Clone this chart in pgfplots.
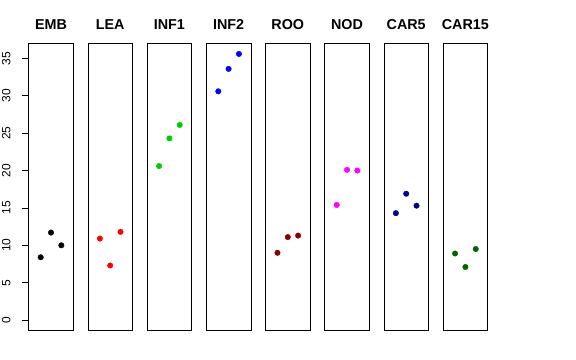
\documentclass[border=0pt]{standalone}
\usepackage{pgfplots}
\pgfplotsset{compat=1.18}
\usepackage{fontspec}
\setmainfont{Liberation Sans}
\definecolor{cEMB}{RGB}{0,0,0}
\definecolor{cLEA}{RGB}{255,0,0}
\definecolor{cINF1}{RGB}{0,205,0}
\definecolor{cINF2}{RGB}{0,0,255}
\definecolor{cROO}{RGB}{139,0,0}
\definecolor{cNOD}{RGB}{255,0,255}
\definecolor{cCAR5}{RGB}{0,0,139}
\definecolor{cCARf}{RGB}{0,100,0}
\pgfplotsset{
  panel/.style={
    scale only axis, width=44.6bp, height=287.4bp,
    anchor=south west,
    xmin=-0.16, xmax=4.16, ymin=-1.424, ymax=37.024,
    xtick=\empty, ytick=\empty,
    axis line style={line width=0.8bp, black},
    title style={at={(0.5,1)}, anchor=base, yshift=8.3bp, inner sep=0pt,
      font=\bfseries\fontsize{14.4}{14.4}\selectfont},
    clip=false,
  },
  pts/.style={only marks, mark=*, mark size=2.75bp, mark options={draw=#1, fill=#1}, color=#1},
}
\begin{document}
\begin{tikzpicture}
\path[use as bounding box] (0,0) rectangle (576bp,360bp);
\begin{axis}[panel, at={(28.7bp,29.3bp)}, title={EMB},
  ytick={0,5,10,15,20,25,30,35},
  tick align=outside, ytick pos=left, major tick length=7bp,
  tick style={line width=0.8bp, black},
  /pgf/number format/assume math mode=true,
  yticklabel style={rotate=90, anchor=south, inner sep=0pt, yshift=11bp, font=\fontsize{12}{12}\selectfont}]
\addplot[pts=cEMB] coordinates {(1,8.4) (2,11.7) (3,10.0)};
\end{axis}
\begin{axis}[panel, at={(87.9bp,29.3bp)}, title={LEA}]
\addplot[pts=cLEA] coordinates {(1,10.9) (2,7.3) (3,11.8)};
\end{axis}
\begin{axis}[panel, at={(147.1bp,29.3bp)}, title={INF1}]
\addplot[pts=cINF1] coordinates {(1,20.6) (2,24.3) (3,26.1)};
\end{axis}
\begin{axis}[panel, at={(206.3bp,29.3bp)}, title={INF2}]
\addplot[pts=cINF2] coordinates {(1,30.6) (2,33.6) (3,35.6)};
\end{axis}
\begin{axis}[panel, at={(265.5bp,29.3bp)}, title={ROO}]
\addplot[pts=cROO] coordinates {(1,9.0) (2,11.1) (3,11.3)};
\end{axis}
\begin{axis}[panel, at={(324.7bp,29.3bp)}, title={NOD}]
\addplot[pts=cNOD] coordinates {(1,15.4) (2,20.1) (3,20.0)};
\end{axis}
\begin{axis}[panel, at={(383.9bp,29.3bp)}, title={CAR5}]
\addplot[pts=cCAR5] coordinates {(1,14.3) (2,16.9) (3,15.3)};
\end{axis}
\begin{axis}[panel, at={(443.1bp,29.3bp)}, title={CAR15}]
\addplot[pts=cCARf] coordinates {(1,8.9) (2,7.1) (3,9.5)};
\end{axis}
\end{tikzpicture}
\end{document}
